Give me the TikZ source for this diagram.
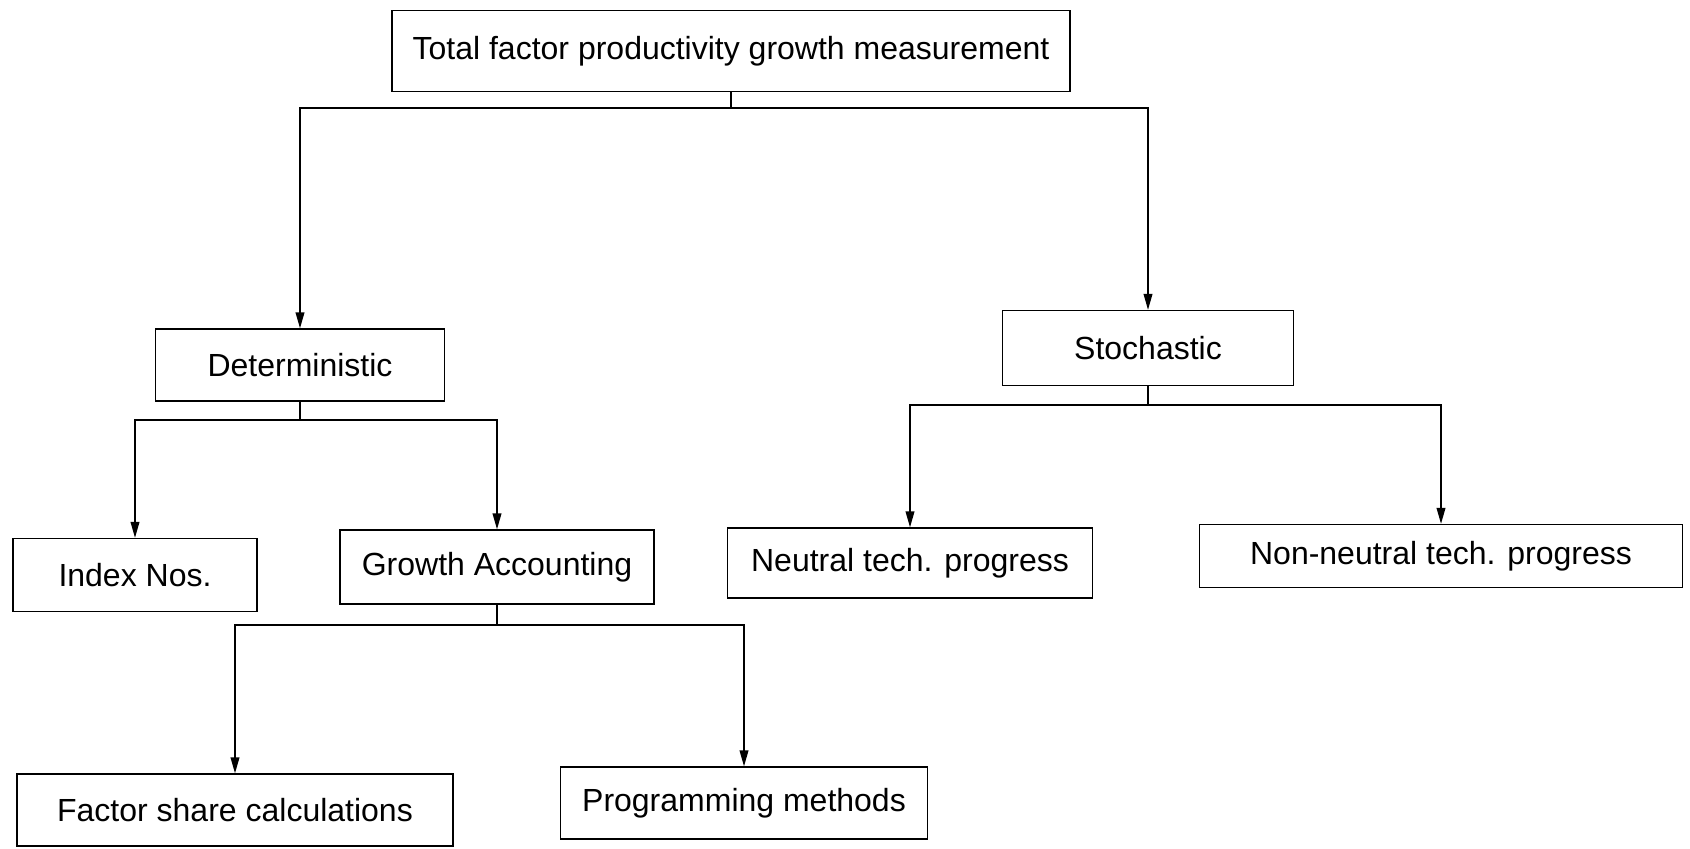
\documentclass[tikz,border=0pt]{standalone}
\usepackage{fontspec}
\setmainfont{Liberation Sans}
\usepackage{tikz}
\usetikzlibrary{calc,arrows.meta}
\tikzset{
  box/.style={draw=black, line width=0.7pt, inner sep=0pt, align=center,
    font=\fontsize{16}{19}\selectfont},
  link/.style={draw=black, line width=0.7pt},
  arrow/.style={-{Triangle[length=8pt,width=4.4pt]}, draw=black, line width=0.7pt}
}

\begin{document}
\begin{tikzpicture}[x=0.5pt, y=-0.5pt]
  \useasboundingbox (0,0) rectangle (1690,848);
  % top level
  \node[box, minimum width=339pt, minimum height=40.5pt] (top) at (731,51)
    {Total factor productivity growth measurement};
  \node[box, minimum width=144.5pt, minimum height=36pt] (det) at (300,365) {Deterministic};
  \node[box, minimum width=145.5pt, minimum height=37.5pt] (sto) at (1148,348) {Stochastic};
  % second level
  \node[box, minimum width=122pt, minimum height=36.5pt] (idx) at (135,575) {Index Nos.};
  \node[box, minimum width=157pt, minimum height=37pt] (gro) at (497,567) {Growth Accounting};
  \node[box, minimum width=182.5pt, minimum height=35pt] (neu) at (910,563) {Neutral tech. progress};
  \node[box, minimum width=241.5pt, minimum height=31.5pt] (non) at (1441,556) {Non-neutral tech. progress};
  % third level
  \node[box, minimum width=218pt, minimum height=36pt] (fac) at (235,810) {Factor share calculations};
  \node[box, minimum width=183.5pt, minimum height=36pt] (prg) at (744,803) {Programming methods};
  % forks
  \coordinate (topfork) at (731,108);
  \coordinate (detfork) at (300,420);
  \coordinate (stofork) at (1148,405);
  \coordinate (grofork) at (497,625);
  \draw[link] (top.south) -- (topfork);
  \draw[arrow] (topfork) -| (det.north);
  \draw[arrow] (topfork) -| (sto.north);
  \draw[link] (det.south) -- (detfork);
  \draw[arrow] (detfork) -| (idx.north);
  \draw[arrow] (detfork) -| (gro.north);
  \draw[link] (sto.south) -- (stofork);
  \draw[arrow] (stofork) -| (neu.north);
  \draw[arrow] (stofork) -| (non.north);
  \draw[link] (gro.south) -- (grofork);
  \draw[arrow] (grofork) -| (fac.north);
  \draw[arrow] (grofork) -| (prg.north);
\end{tikzpicture}
\end{document}
